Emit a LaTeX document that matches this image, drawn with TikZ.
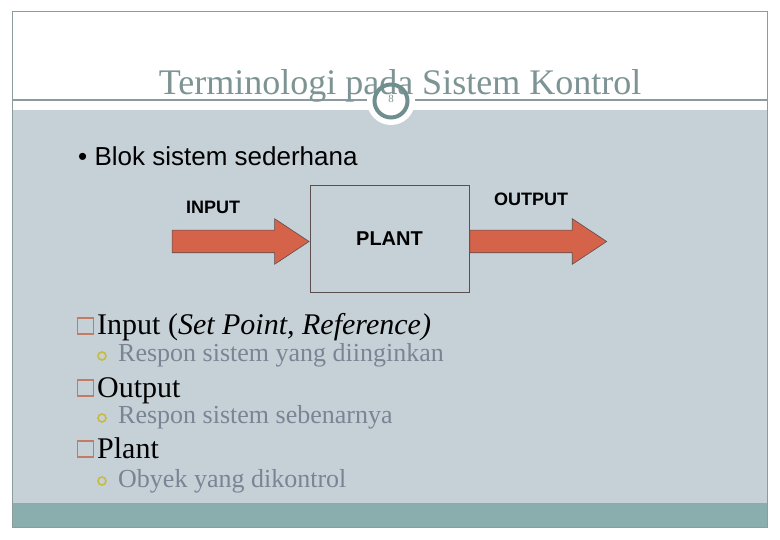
\documentclass[tikz,border=0pt]{standalone}
\usepackage{fontspec}
\setmainfont{Liberation Serif}
\setsansfont{Liberation Sans}
\usetikzlibrary{positioning,shapes.arrows}
\definecolor{slidegray}{HTML}{C6D1D7}
\definecolor{slideteal}{HTML}{8AADAD}
\definecolor{framegray}{HTML}{8C9C9C}
\definecolor{titlegray}{HTML}{7E9494}
\definecolor{ringteal}{HTML}{6F8E8E}
\definecolor{arroworange}{HTML}{D4634A}
\definecolor{arrowline}{HTML}{5A4E4E}
\definecolor{sqred}{HTML}{C47A64}
\definecolor{dotyellow}{HTML}{C8BA3C}
\definecolor{subgray}{HTML}{7A8494}

\begin{document}
\begin{tikzpicture}[x=1pt,y=-1pt,every node/.style={inner sep=0pt},
    bigarrow/.style={single arrow,draw=arrowline,fill=arroworange,line width=0.6pt,
      minimum height=137pt,inner ysep=11pt,inner xsep=0pt,
      single arrow head extend=11.5pt,single arrow tip angle=67},
    iolabel/.style={font=\sffamily\bfseries\fontsize{18}{20}\selectfont},
    item/.style={font=\fontsize{30}{34}\selectfont,anchor=base west},
    subitem/.style={font=\fontsize{26}{30}\selectfont,text=subgray,anchor=base west},
    sqmark/.style={draw=sqred,line width=1.3pt,minimum size=16pt},
    dotmark/.style={circle,draw=dotyellow,line width=1.6pt,minimum size=8pt}]
  \useasboundingbox (0,0) rectangle (780,540);
  % slide background
  \fill[white] (0,0) rectangle (780,540);
  \fill[slidegray] (12,110) rectangle (767,503);
  \fill[slideteal] (12,503) rectangle (767,527);
  \draw[framegray,line width=1pt] (12,12) rectangle (767,527);
  \draw[framegray,line width=1.5pt] (12,100) -- (767,100);
  % title and slide number
  \node[circle,fill=white,minimum size=48pt] (halo) at (391,101) {};
  \node[font=\fontsize{36}{40}\selectfont,text=titlegray,anchor=base] (title) at (400,95) {Terminologi pada Sistem Kontrol};
  \node[circle,draw=ringteal,line width=4pt,minimum size=33pt] (ring) at (halo) {};
  \node[font=\fontsize{11}{11}\selectfont,text=titlegray] (slidenum) at (391,99) {8};
  % block diagram
  \node[font=\sffamily\fontsize{26}{28}\selectfont,anchor=base west] (blok) at (78,166) {• Blok sistem sederhana};
  \node[draw=arrowline,line width=0.8pt,minimum width=159pt,minimum height=107pt,
    font=\sffamily\bfseries\fontsize{20}{22}\selectfont] (plant) at (389.5,238.5) {PLANT};
  \node[bigarrow,anchor=tip] (inarrow) at ([yshift=-3pt]plant.west) {};
  \node[bigarrow,anchor=tail] (outarrow) at ([yshift=-3pt]plant.east) {};
  \node[iolabel] (inlabel) at (213,207) {INPUT};
  \node[iolabel] (outlabel) at (531,199) {OUTPUT};
  % list
  \node[item] (input) at (97,335) {Input (\textit{Set Point, Reference)}};
  \node[sqmark] (inputsq) at (85.5,326) {};
  \node[subitem] (inputsub) at (118,362) {Respon sistem yang diinginkan};
  \node[dotmark] (inputdot) at (102,356) {};
  \node[item] (output) at (97,397) {Output};
  \node[sqmark] (outputsq) at (85.5,388) {};
  \node[subitem] (outputsub) at (118,424) {Respon sistem sebenarnya};
  \node[dotmark] (outputdot) at (102,418) {};
  \node[item] (plantitem) at (97,458) {Plant};
  \node[sqmark] (plantsq) at (85.5,449) {};
  \node[subitem] (plantsub) at (118,487) {Obyek yang dikontrol};
  \node[dotmark] (plantdot) at (102,481) {};
\end{tikzpicture}
\end{document}
